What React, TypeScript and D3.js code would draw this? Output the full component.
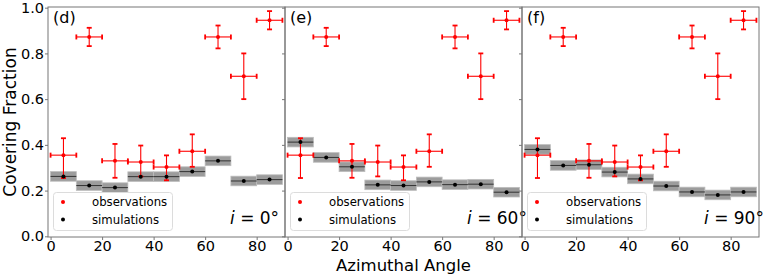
import * as d3 from "d3";
import { useEffect, useRef } from "react";

// bin centres (deg)
const angles = [5, 15, 25, 35, 45, 55, 65, 75, 85];
const binHalf = 5;

// observations (same in all panels)
const obsValues = [0.355, 0.872, 0.33, 0.325, 0.303, 0.372, 0.872, 0.7, 0.945];
const obsErrLow = [0.1, 0.04, 0.074, 0.063, 0.058, 0.068, 0.05, 0.1, 0.04];
const obsErrHigh = [0.074, 0.04, 0.074, 0.072, 0.051, 0.074, 0.05, 0.1, 0.04];

// simulations per inclination
const simI0 = [0.262, 0.222, 0.213, 0.261, 0.261, 0.283, 0.33, 0.242, 0.248];
const simI60 = [0.412, 0.345, 0.304, 0.225, 0.222, 0.238, 0.226, 0.228, 0.193];
const simI90 = [0.38, 0.31, 0.313, 0.281, 0.251, 0.22, 0.194, 0.181, 0.194];
const simErr = 0.021;

const panelLabels = ["(d)", "(e)", "(f)"];
const inclinations = ["0", "60", "90"];
const simSeries = [simI0, simI60, simI90];

const xTicks = [0, 20, 40, 60, 80];
const yTicks = [0, 0.2, 0.4, 0.6, 0.8, 1.0];

const FONT = "DejaVu Sans, sans-serif";

export default function App() {
  const ref = useRef<SVGSVGElement>(null);

  useEffect(() => {
    if (!ref.current) return;
    const svg = d3.select(ref.current);
    svg.selectAll("*").remove();

    const width = 764;
    const height = 276;
    const left0 = 48;
    const panelW = 237;
    const top = 7;
    const bottom = 237;
    const spine = "#777";

    svg.attr("width", width).attr("height", height).style("font-family", FONT);

    const x = d3.scaleLinear().domain([-1, 91]).range([0, panelW]);
    const y = d3.scaleLinear().domain([-0.003, 1.003]).range([bottom, top]);

    panelLabels.forEach((label, p) => {
      const sim = simSeries[p];
      const g = svg.append("g").attr("transform", `translate(${left0 + p * panelW},0)`);

      // axes
      const xAxis = g
        .append("g")
        .attr("transform", `translate(0,${bottom})`)
        .call(d3.axisBottom(x).tickValues(xTicks).tickSize(3).tickPadding(1));
      xAxis.selectAll("text").style("font-size", "14.5px").style("fill", "#000").style("font-family", FONT);
      xAxis.selectAll("line").style("stroke", spine);
      xAxis.select(".domain").remove();

      const yAxis = g
        .append("g")
        .call(
          d3
            .axisLeft(y)
            .tickValues(yTicks)
            .tickSize(3)
            .tickPadding(1)
            .tickFormat((d) => (p === 0 ? d3.format(".1f")(d as number) : ""))
        );
      yAxis.selectAll("text").style("font-size", "14.5px").style("fill", "#000").style("font-family", FONT);
      yAxis.selectAll("line").style("stroke", spine);
      yAxis.select(".domain").remove();

      // simulation boxes
      g.selectAll(".simbox")
        .data(sim)
        .join("rect")
        .attr("class", "simbox")
        .attr("x", (_d, i) => x(angles[i] - binHalf))
        .attr("width", x(binHalf * 2) - x(0))
        .attr("y", (d) => y(d + simErr))
        .attr("height", (d) => y(d - simErr) - y(d + simErr))
        .attr("fill", "#9c9c9c")
        .attr("stroke", "#bdbdbd")
        .attr("stroke-width", 0.8);

      g.selectAll(".simline")
        .data(sim)
        .join("line")
        .attr("class", "simline")
        .attr("x1", (_d, i) => x(angles[i] - binHalf))
        .attr("x2", (_d, i) => x(angles[i] + binHalf))
        .attr("y1", (d) => y(d))
        .attr("y2", (d) => y(d))
        .attr("stroke", "#333")
        .attr("stroke-width", 1);

      // observation error bars
      const obs = g.append("g").attr("stroke", "#ff0000");
      obsValues.forEach((v, i) => {
        const cx = x(angles[i]);
        const cy = y(v);
        const x0 = x(angles[i] - binHalf);
        const x1 = x(angles[i] + binHalf);
        const yHi = y(v + obsErrHigh[i]);
        const yLo = y(v - obsErrLow[i]);
        obs.append("line").attr("x1", x0).attr("x2", x1).attr("y1", cy).attr("y2", cy).attr("stroke-width", 1.1);
        obs.append("line").attr("x1", cx).attr("x2", cx).attr("y1", yHi).attr("y2", yLo).attr("stroke-width", 1.1);
        obs.append("line").attr("x1", x0).attr("x2", x0).attr("y1", cy - 2.5).attr("y2", cy + 2.5).attr("stroke-width", 1.8);
        obs.append("line").attr("x1", x1).attr("x2", x1).attr("y1", cy - 2.5).attr("y2", cy + 2.5).attr("stroke-width", 1.8);
        obs.append("line").attr("x1", cx - 2.5).attr("x2", cx + 2.5).attr("y1", yHi).attr("y2", yHi).attr("stroke-width", 1.8);
        obs.append("line").attr("x1", cx - 2.5).attr("x2", cx + 2.5).attr("y1", yLo).attr("y2", yLo).attr("stroke-width", 1.8);
        obs.append("circle").attr("cx", cx).attr("cy", cy).attr("r", 2).attr("fill", "#ff0000").attr("stroke", "none");
      });

      // simulation dots
      g.selectAll(".simdot")
        .data(sim)
        .join("circle")
        .attr("class", "simdot")
        .attr("cx", (_d, i) => x(angles[i]))
        .attr("cy", (d) => y(d))
        .attr("r", 2)
        .attr("fill", "#000");

      // frame
      g.append("rect")
        .attr("x", 0)
        .attr("y", top)
        .attr("width", panelW)
        .attr("height", bottom - top)
        .attr("fill", "none")
        .attr("stroke", spine)
        .attr("stroke-width", 1);

      // panel label
      g.append("text")
        .attr("x", 5)
        .attr("y", 23)
        .style("font-size", "16px")
        .text(label);

      // legend
      const leg = g.append("g").attr("transform", "translate(5.5,192.5)");
      leg.append("rect")
        .attr("width", 119)
        .attr("height", 38)
        .attr("rx", 3)
        .attr("fill", "#fff")
        .attr("fill-opacity", 0.8)
        .attr("stroke", "#dcdcdc");
      const items = [
        { name: "observations", color: "#ff0000", cy: 9.5 },
        { name: "simulations", color: "#000", cy: 27 },
      ];
      items.forEach((it) => {
        leg.append("circle").attr("cx", 9.5).attr("cy", it.cy).attr("r", 2).attr("fill", it.color);
        leg.append("text")
          .attr("x", 38.5)
          .attr("y", it.cy + 4.2)
          .style("font-size", "11.7px")
          .text(it.name);
      });

      // inclination
      const inc = g.append("text").attr("x", 182).attr("y", 224).style("font-size", "17px");
      inc.append("tspan").style("font-style", "italic").text("i");
      inc.append("tspan").text(` = ${inclinations[p]}°`);
    });

    // axis titles
    svg.append("text")
      .attr("transform", `translate(15.5,${(top + bottom) / 2}) rotate(-90)`)
      .attr("text-anchor", "middle")
      .style("font-size", "17px")
      .text("Covering Fraction");

    svg.append("text")
      .attr("x", left0 + panelW * 1.5)
      .attr("y", 270.5)
      .attr("text-anchor", "middle")
      .style("font-size", "16.5px")
      .text("Azimuthal Angle");
  }, []);

  return (
    <div style={{ position: "absolute", left: 0, top: 0, background: "#fff" }}>
      <svg ref={ref} />
    </div>
  );
}
